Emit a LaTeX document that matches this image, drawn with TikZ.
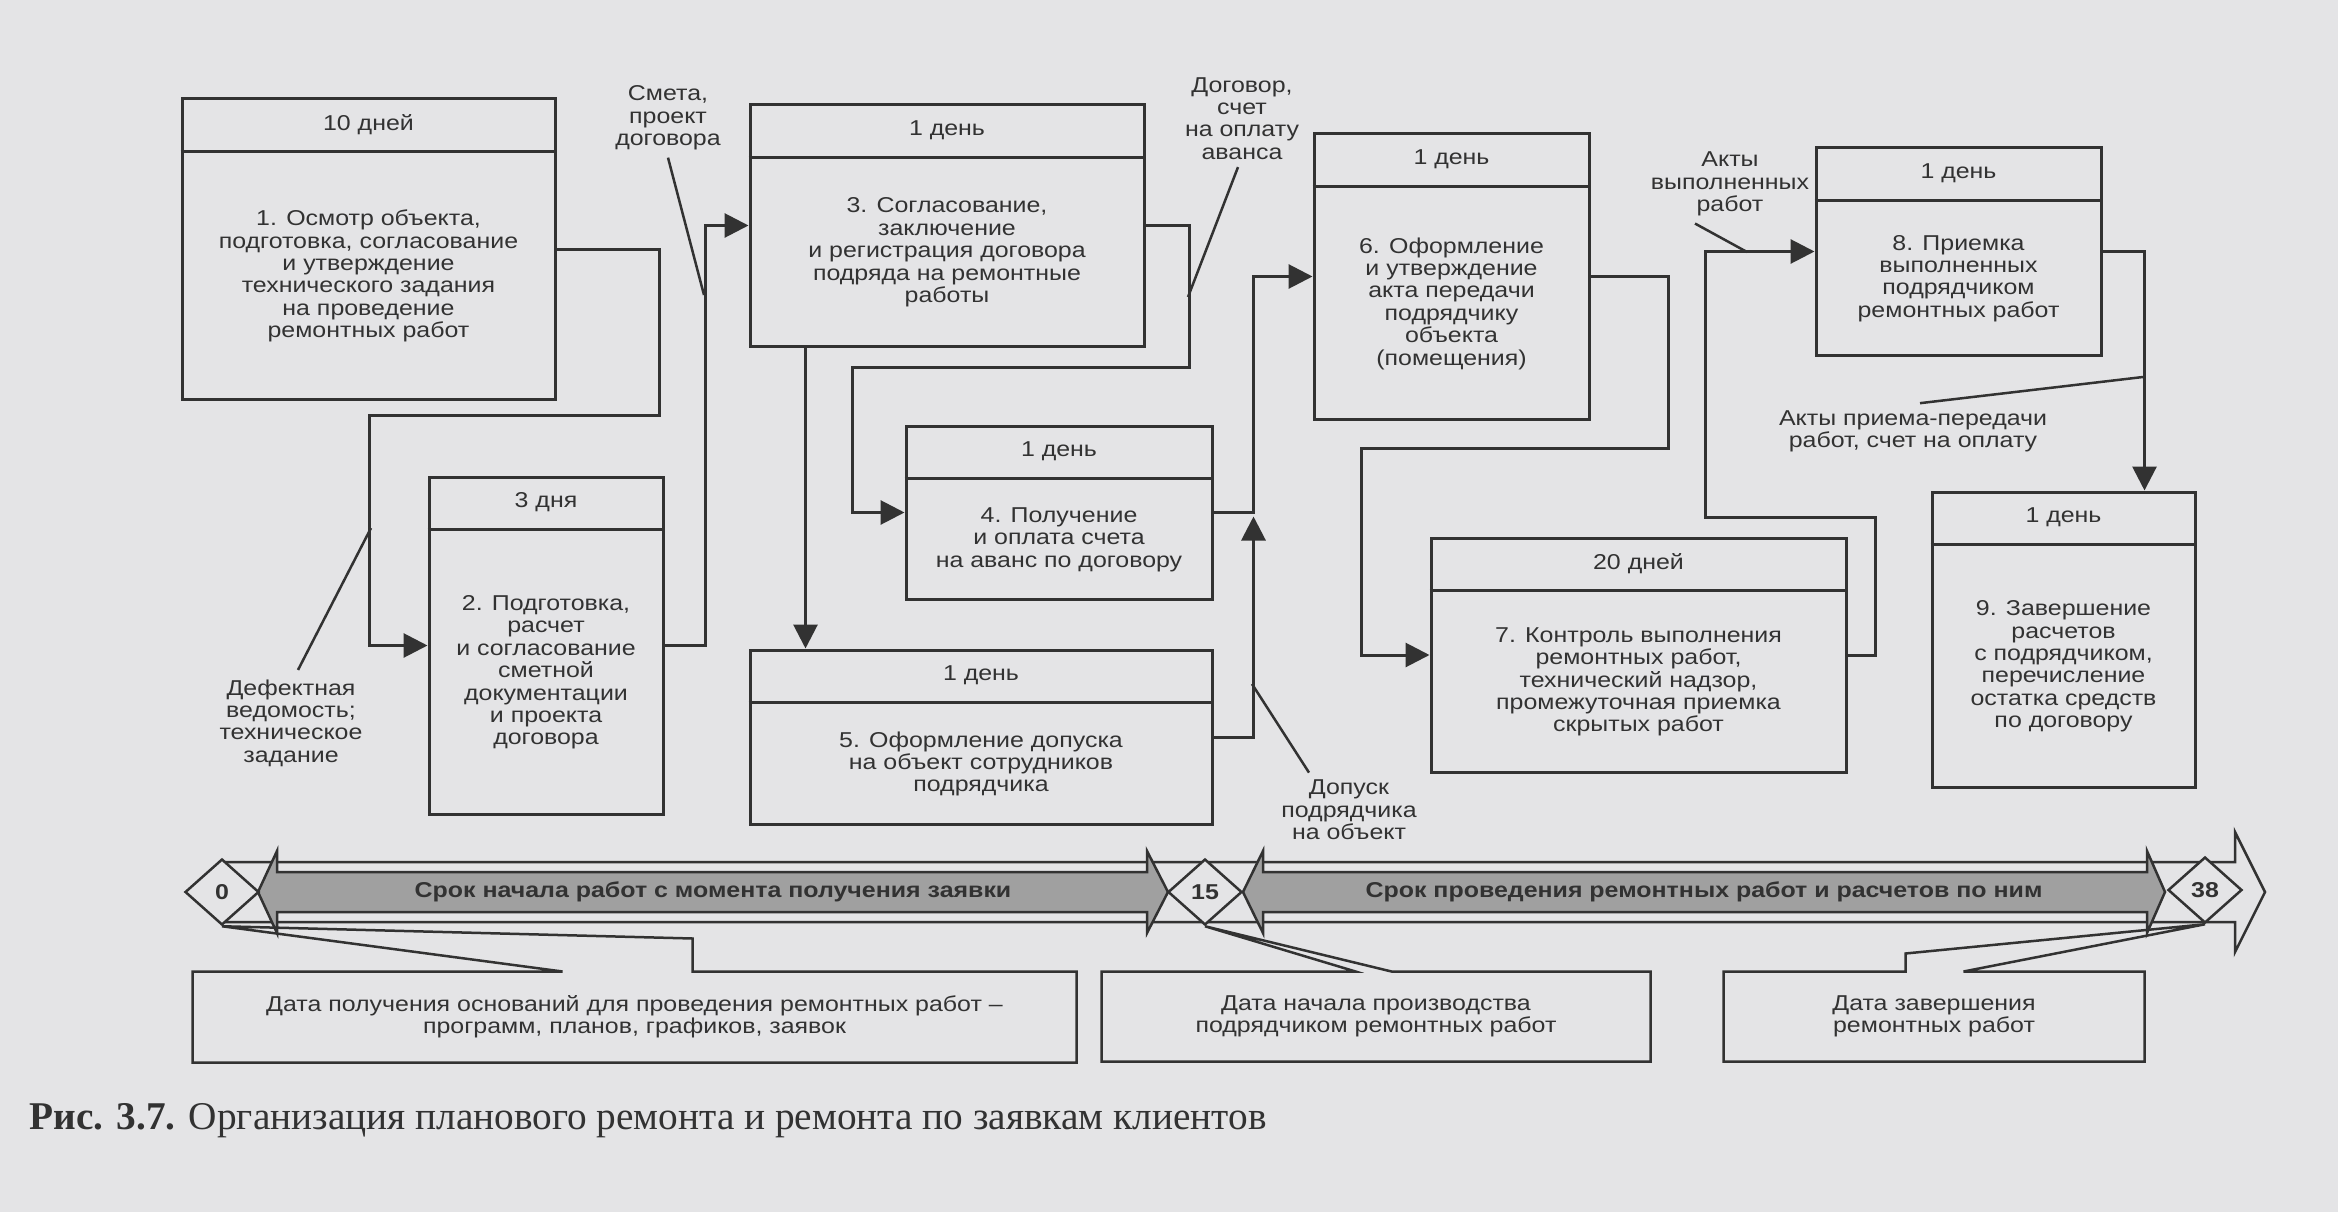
\documentclass[tikz,border=0pt]{standalone}
\usepackage{fontspec}
\setmainfont{Liberation Sans}[FakeStretch=1.16]
\newfontfamily\capfont{Liberation Serif}
\usetikzlibrary{arrows.meta,calc,shapes.geometric}
\definecolor{ink}{RGB}{50,50,50}
\definecolor{paper}{RGB}{228,228,230}
\definecolor{band}{RGB}{160,160,160}

\begin{document}
\begin{tikzpicture}[x=1pt, y=-1pt, line width=3pt, color=ink,
  stage/.style={draw, rectangle, inner sep=0},
  head/.style={font=\fontsize{21.5}{22.4}\selectfont},
  body/.style={align=center, font=\fontsize{21.5}{22.4}\selectfont},
  note/.style={align=center, inner sep=0, font=\fontsize{21.5}{22.4}\selectfont},
  flow/.style={-{Triangle[length=24pt,width=24pt]}},
  lead/.style={line width=2.5pt},
  mile/.style={diamond, draw, fill=paper, inner sep=0, minimum width=74, minimum height=66,
    line width=2.5pt, font=\bfseries\fontsize{21.5}{22.4}\selectfont},
  bandtxt/.style={font=\bfseries\fontsize{21.5}{22.4}\selectfont}]
\fill[paper] (0,0) rectangle (2338,1212);
\useasboundingbox (0,0) rectangle (2338,1212);

% 1
\node[stage, minimum width=373, minimum height=300] (s1) at (368.5,249) {};
\draw ($(s1.north west)+(0,54)$) -- ($(s1.north east)+(0,54)$);
\node[head] (s1h) at ($(s1.north)+(0,27)$) {10 дней};
\node[body] (s1t) at ($(s1.center)+(0,27)$) {1. Осмотр объекта,\\подготовка, согласование\\и утверждение\\технического задания\\на проведение\\ремонтных работ};
% 2
\node[stage, minimum width=234, minimum height=337] (s2) at (546,645.5) {};
\draw ($(s2.north west)+(0,54)$) -- ($(s2.north east)+(0,54)$);
\node[head] (s2h) at ($(s2.north)+(0,27)$) {3 дня};
\node[body] (s2t) at ($(s2.center)+(0,27)$) {2. Подготовка,\\расчет\\и согласование\\сметной\\документации\\и проекта\\договора};
% 3
\node[stage, minimum width=394, minimum height=241] (s3) at (947,225.5) {};
\draw ($(s3.north west)+(0,54)$) -- ($(s3.north east)+(0,54)$);
\node[head] (s3h) at ($(s3.north)+(0,27)$) {1 день};
\node[body] (s3t) at ($(s3.center)+(0,27)$) {3. Согласование,\\заключение\\и регистрация договора\\подряда на ремонтные\\работы};
% 4
\node[stage, minimum width=306, minimum height=173] (s4) at (1059,512.5) {};
\draw ($(s4.north west)+(0,54)$) -- ($(s4.north east)+(0,54)$);
\node[head] (s4h) at ($(s4.north)+(0,27)$) {1 день};
\node[body] (s4t) at ($(s4.center)+(0,27)$) {4. Получение\\и оплата счета\\на аванс по договору};
% 5
\node[stage, minimum width=462, minimum height=174] (s5) at (981,737) {};
\draw ($(s5.north west)+(0,54)$) -- ($(s5.north east)+(0,54)$);
\node[head] (s5h) at ($(s5.north)+(0,27)$) {1 день};
\node[body] (s5t) at ($(s5.center)+(0,27)$) {5. Оформление допуска\\на объект сотрудников\\подрядчика};
% 6
\node[stage, minimum width=275, minimum height=285] (s6) at (1451.5,276.5) {};
\draw ($(s6.north west)+(0,54)$) -- ($(s6.north east)+(0,54)$);
\node[head] (s6h) at ($(s6.north)+(0,27)$) {1 день};
\node[body] (s6t) at ($(s6.center)+(0,27)$) {6. Оформление\\и утверждение\\акта передачи\\подрядчику\\объекта\\(помещения)};
% 7
\node[stage, minimum width=415, minimum height=234] (s7) at (1638.5,655) {};
\draw ($(s7.north west)+(0,54)$) -- ($(s7.north east)+(0,54)$);
\node[head] (s7h) at ($(s7.north)+(0,27)$) {20 дней};
\node[body] (s7t) at ($(s7.center)+(0,27)$) {7. Контроль выполнения\\ремонтных работ,\\технический надзор,\\промежуточная приемка\\скрытых работ};
% 8
\node[stage, minimum width=285, minimum height=207] (s8) at (1958.5,251.5) {};
\draw ($(s8.north west)+(0,54)$) -- ($(s8.north east)+(0,54)$);
\node[head] (s8h) at ($(s8.north)+(0,27)$) {1 день};
\node[body] (s8t) at ($(s8.center)+(0,27)$) {8. Приемка\\выполненных\\подрядчиком\\ремонтных работ};
% 9
\node[stage, minimum width=263, minimum height=295] (s9) at (2063.5,639.5) {};
\draw ($(s9.north west)+(0,54)$) -- ($(s9.north east)+(0,54)$);
\node[head] (s9h) at ($(s9.north)+(0,27)$) {1 день};
\node[body] (s9t) at ($(s9.center)+(0,27)$) {9. Завершение\\расчетов\\с подрядчиком,\\перечисление\\остатка средств\\по договору};

% connectors
\draw[flow] (s1.east) -- ++(103,0) -- ++(0,166) -| ($(s2.west)+(-58,0)$) -- (s2.west);
\draw[flow] (s2.east) -- ++(41,0) |- (s3.west);
\draw[flow] (s3.east) -- ++(44,0) -- ++(0,142) -| ($(s4.west)+(-52,0)$) -- (s4.west);
\draw[flow] ($(s3.south west)+(57,0)$) -- ($(s5.north west)+(57,0)$);
\draw[flow] (s4.east) -- ++(40,0) |- (s6.west);
\draw[flow] (s5.east) -| ($(s4.east)+(40,4)$);
\draw[flow] (s6.east) -- ++(78,0) -- ++(0,172) -| ($(s7.west)+(-68,0)$) -- (s7.west);
\draw[flow] (s7.east) -- ++(28,0) -- ++(0,-138) -| ($(s8.west)+(-109,0)$) -- (s8.west);
\draw[flow] (s8.east) -| ($(s9.north east)+(-52,0)$);

% labels with leaders
\coordinate (pDef) at (371,528);
\coordinate (pSmeta) at (704,295);
\coordinate (pDog) at (1188,297);
\coordinate (pDop) at (1252,684);
\coordinate (pAkt1) at (1747,252);
\coordinate (pAkt2) at (2143,377);
\node[note] (def) at (291,723) {Дефектная\\ведомость;\\техническое\\задание};
\node[note] (smeta) at (668,118) {Смета,\\проект\\договора};
\node[note] (dog) at (1242,118.5) {Договор,\\счет\\на оплату\\аванса};
\node[note] (dop) at (1349,810) {Допуск\\подрядчика\\на объект};
\node[note] (akt1) at (1730,184) {Акты\\выполненных\\работ};
\node[note] (akt2) at (1913,431.5) {Акты приема-передачи\\работ, счет на оплату};
\draw[lead] ($(def.north)+(7,-8)$) -- (pDef);
\draw[lead] ($(smeta.south)+(0,6)$) -- (pSmeta);
\draw[lead] ($(dog.south)+(-4,6)$) -- (pDog);
\draw[lead] ($(dop.north)+(-40,-6)$) -- (pDop);
\draw[lead] ($(akt1.south)+(-35,6)$) -- (pAkt1);
\draw[lead] ($(akt2.north)+(7,-6)$) -- (pAkt2);

% time line
\draw[line width=2.5pt, fill=paper] (222,862) -- (2235,862) -- (2235,832) -- (2265,892)
  -- (2235,952) -- (2235,922) -- (222,922) -- cycle;
\draw[line width=2.5pt, fill=band] (277,872) -- (1147,872) -- (1147,851) -- (1168,892) -- (1147,933)
  -- (1147,912) -- (277,912) -- (277,933) -- (258,892) -- (277,851) -- cycle;
\draw[line width=2.5pt, fill=band] (1263,872) -- (2147,872) -- (2147,851) -- (2165,892) -- (2147,933)
  -- (2147,912) -- (1263,912) -- (1263,933) -- (1243,892) -- (1263,851) -- cycle;
\node[bandtxt] (srok1) at (713,892) {Срок начала работ с момента получения заявки};
\node[bandtxt] (srok2) at (1704,892) {Срок проведения ремонтных работ и расчетов по ним};
\node[mile] (z0) at (222,892) {0};
\node[mile] (z15) at (1205,892) {15};
\node[mile] (z38) at (2205,890) {38};

% dates
\node[note, minimum width=881, minimum height=88] (d0) at (634.5,1017) {Дата получения оснований для проведения ремонтных работ --\\программ, планов, графиков, заявок};
\node[note, minimum width=546, minimum height=87] (d15) at (1376,1016.5) {Дата начала производства\\подрядчиком ремонтных работ};
\node[note, minimum width=418, minimum height=87] (d38) at (1934,1016.5) {Дата завершения\\ремонтных работ};
\draw[line width=2.5pt] (d0.north west) -- ++(370,0) -- (z0.south) -- ($(d0.north west)+(500,-33)$)
  -- ($(d0.north west)+(500,0)$) -- (d0.north east) |- (d0.south west) -- cycle;
\draw[line width=2.5pt] (d15.north west) -- ++(254,0) -- (z15.south) -- ($(d15.north west)+(290,0)$)
  -- (d15.north east) |- (d15.south west) -- cycle;
\draw[line width=2.5pt] (d38.north west) -- ++(182,0) -- ++(0,-18) -- (z38.south) -- ($(d38.north west)+(240,0)$)
  -- (d38.north east) |- (d38.south west) -- cycle;

\node[anchor=west, font=\capfont\fontsize{39.3}{41}\selectfont] (cap) at (25,1121) {\textbf{Рис. 3.7.} Организация планового ремонта и ремонта по заявкам клиентов};
\end{tikzpicture}
\end{document}
